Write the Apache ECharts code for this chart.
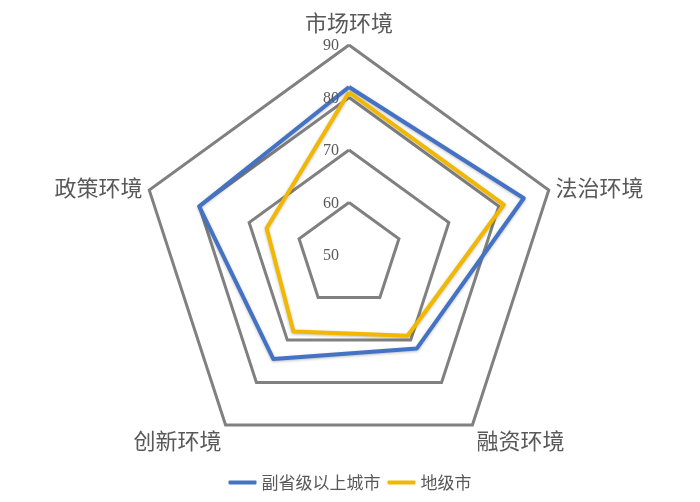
<!DOCTYPE html>
<html>
<head>
    <meta charset="utf-8"/>
    <title>营商环境雷达图</title>
    <script src="https://cdn.jsdelivr.net/npm/echarts@6/dist/echarts.min.js"></script>
    <style>
        html, body { margin: 0; padding: 0; background: #fff; }
        #main { width: 700px; height: 502px; }
    </style>
</head>
<body>
<div id="main"></div>
<script>
    // 指标（逆时针顺序，从顶部开始）
    var indicatorNames = ['市场环境', '政策环境', '创新环境', '融资环境', '法治环境'];
    var seriesNames = ['副省级以上城市', '地级市'];
    var cityData = [82, 80, 74.5, 72, 85];
    var prefData = [81, 66.5, 68, 69, 81];
    var tickLabels = ['50', '60', '70', '80', '90'];
    var axisMin = 50, axisMax = 90;

    var chart = echarts.init(document.getElementById('main'));

    var nameFont = '"Noto Sans CJK SC", sans-serif';

    var option = {
        backgroundColor: '#fff',
        legend: {
            data: seriesNames,
            top: 469,
            left: 'center',
            icon: 'roundRect',
            itemWidth: 28,
            itemHeight: 4,
            itemGap: 7,
            textStyle: { fontSize: 17, color: '#595959', fontFamily: nameFont }
        },
        radar: {
            center: [349, 255],
            radius: 210,
            shape: 'polygon',
            splitNumber: 4,
            nameGap: 7,
            axisName: {
                color: '#595959',
                fontSize: 22,
                fontFamily: nameFont,
                // 底部两个指标名往下挪一点
                formatter: function (name) {
                    if (name === '创新环境' || name === '融资环境') return '{low|' + name + '}';
                    if (name === '市场环境') return '{top|' + name + '}';
                    return name;
                },
                rich: {
                    low: { fontSize: 22, color: '#595959', fontFamily: nameFont, padding: [20, 0, 0, 0] },
                    top: { fontSize: 22, color: '#595959', fontFamily: nameFont, padding: [0, 0, 4, 0] }
                }
            },
            indicator: indicatorNames.map(function (n) {
                return { name: n, min: axisMin, max: axisMax };
            }),
            axisLine: { show: false },
            splitArea: { show: false },
            splitLine: { lineStyle: { color: '#808080', width: 3 } },
            axisTick: { show: false },
            axisLabel: { show: false }
        },
        series: [{
            type: 'radar',
            symbol: 'none',
            data: [{
                name: seriesNames[0],
                value: cityData,
                lineStyle: { color: '#4472C4', width: 4, shadowColor: 'rgba(0,0,0,0.25)', shadowBlur: 3, shadowOffsetY: 1 },
                itemStyle: { color: '#4472C4' }
            }, {
                name: seriesNames[1],
                value: prefData,
                lineStyle: { color: '#F2B800', width: 4, shadowColor: 'rgba(0,0,0,0.25)', shadowBlur: 3, shadowOffsetY: 1 },
                itemStyle: { color: '#F2B800' }
            }]
        }]
    };

    // 刻度标签（沿顶部轴的左侧）
    option.graphic = tickLabels.map(function (t, i) {
        return {
            type: 'text',
            x: 339,
            y: 256 - i * 210 / 4,
            style: {
                text: t,
                fill: '#595959',
                fontSize: 16,
                fontFamily: '"Liberation Serif", serif',
                align: 'right',
                verticalAlign: 'middle'
            },
            z: 10
        };
    });

    chart.setOption(option);
</script>
</body>
</html>
